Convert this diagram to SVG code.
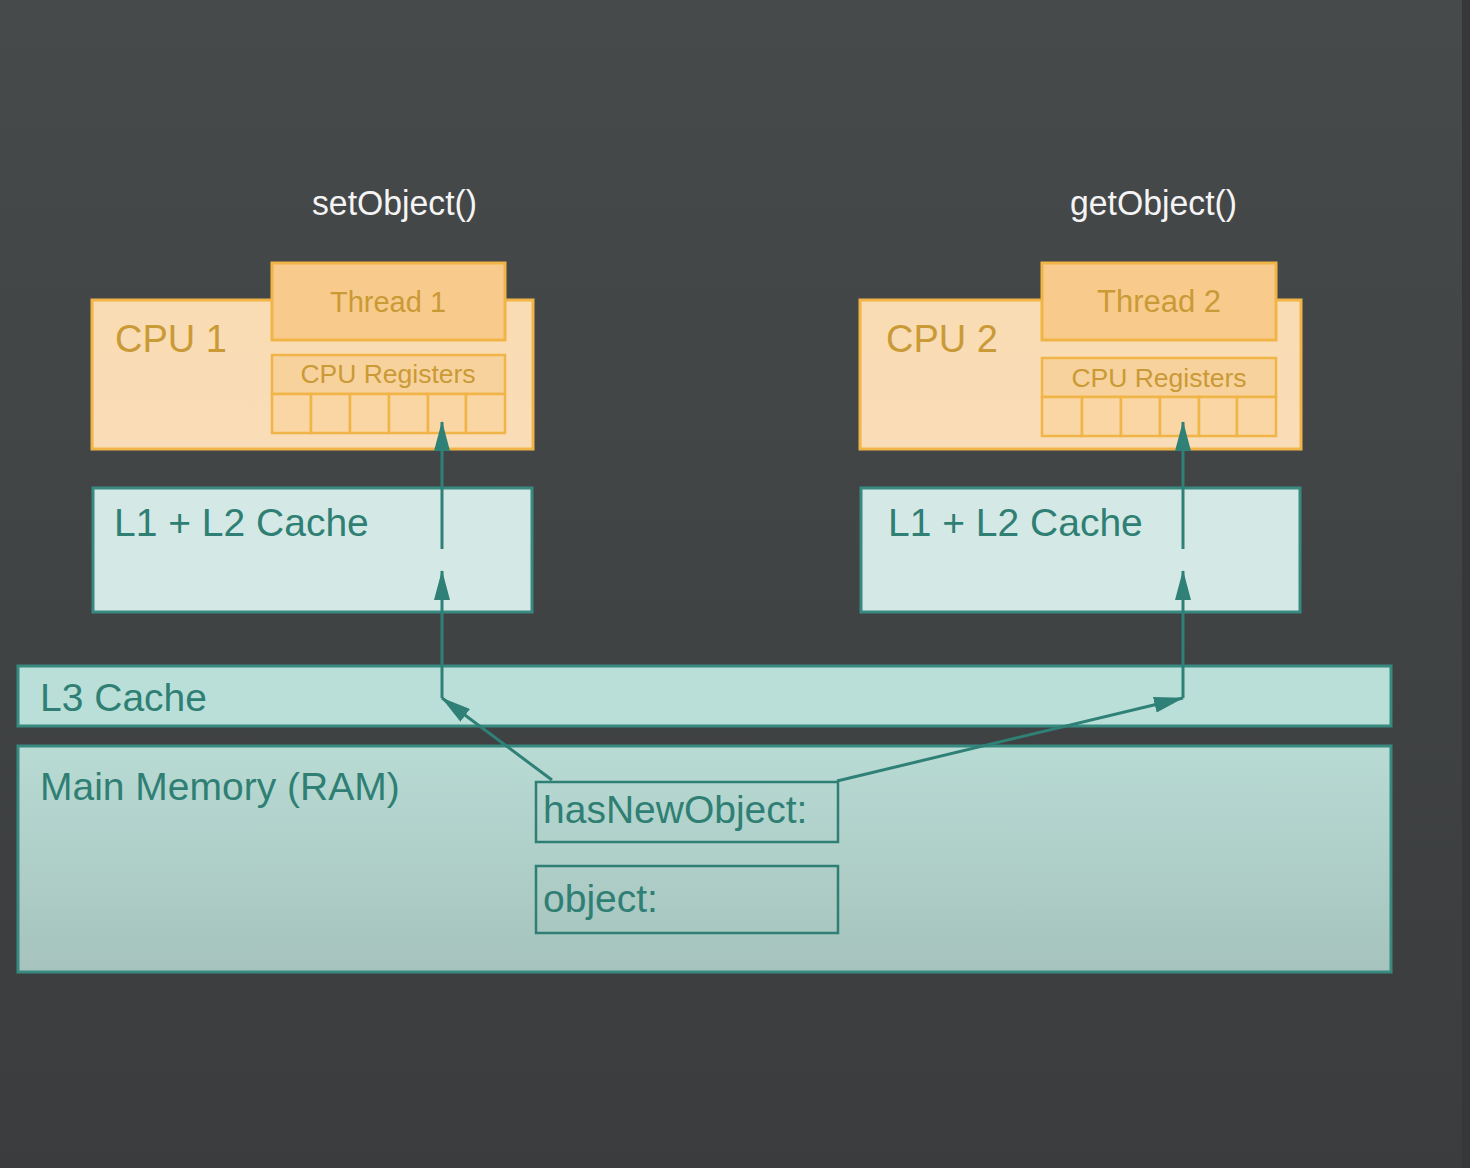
<svg xmlns="http://www.w3.org/2000/svg" width="1470" height="1168" viewBox="0 0 1470 1168">
<defs>
<linearGradient id="bg" x1="0" y1="0" x2="0" y2="1">
<stop offset="0" stop-color="#474a4b"/>
<stop offset="1" stop-color="#3a3c3e"/>
</linearGradient>
<linearGradient id="cpuFill" x1="0" y1="0" x2="0" y2="1">
<stop offset="0" stop-color="#fadcb3"/>
<stop offset="1" stop-color="#f9ddb8"/>
</linearGradient>
<linearGradient id="ramFill" x1="0" y1="0" x2="0" y2="1">
<stop offset="0" stop-color="#b8dbd4"/>
<stop offset="1" stop-color="#a6c3bd"/>
</linearGradient>
<marker id="arr" viewBox="0 0 30 16" refX="29" refY="8" markerWidth="30" markerHeight="16" markerUnits="userSpaceOnUse" orient="auto">
<path d="M0,0 L30,8 L0,16 Z" fill="#2f8077"/>
</marker>
<style>
.cpu{fill:url(#cpuFill);stroke:#f0b447;stroke-width:3}
.thr{fill:#f8cb8c;stroke:#f0b447;stroke-width:3}
.reg{fill:#f8d29c;stroke:#f0b447;stroke-width:2.5}
.cell{fill:#f9d6a4;stroke:#f0b447;stroke-width:2.5}
.l12{fill:#d4e9e5;stroke:#388a80;stroke-width:3}
.l3{fill:#badfd8;stroke:#388a80;stroke-width:3}
.ram{fill:url(#ramFill);stroke:#388a80;stroke-width:3}
.var{fill:none;stroke:#2f7f75;stroke-width:2.5}
.t{font-family:"Liberation Sans",Arial,sans-serif}
.ct{fill:#c99a36}
.tt{fill:#2f7f74}
.wt{fill:#f4f4f4}
.con{fill:none;stroke:#2f8077;stroke-width:3}
</style>
</defs>
<rect x="0" y="0" width="1470" height="1168" fill="url(#bg)"/>
<rect x="1462" y="0" width="8" height="1168" fill="#353739"/>

<text class="t wt" x="312" y="215" font-size="35" textLength="165" lengthAdjust="spacingAndGlyphs">setObject()</text>
<text class="t wt" x="1070" y="215" font-size="35" textLength="167" lengthAdjust="spacingAndGlyphs">getObject()</text>

<g id="cpu1">
<rect class="cpu" x="92" y="300" width="441" height="149"/>
<text class="t ct" x="115" y="352" font-size="38">CPU 1</text>
<g id="thread1">
<rect class="thr" x="272" y="263" width="233" height="77"/>
<text class="t ct" x="388" y="312" font-size="29" text-anchor="middle">Thread 1</text>
</g>
<g id="regs1">
<rect class="reg" x="272" y="355" width="233" height="39"/>
<text class="t ct" x="388" y="383" font-size="26.5" text-anchor="middle">CPU Registers</text>
<rect class="cell" x="272" y="394" width="39" height="39"/>
<rect class="cell" x="311" y="394" width="39" height="39"/>
<rect class="cell" x="350" y="394" width="39" height="39"/>
<rect class="cell" x="389" y="394" width="39" height="39"/>
<rect class="cell" x="428" y="394" width="38" height="39"/>
<rect class="cell" x="466" y="394" width="39" height="39"/>
</g>
</g>

<g id="cpu2">
<rect class="cpu" x="860" y="300" width="441" height="149"/>
<text class="t ct" x="886" y="352" font-size="38">CPU 2</text>
<g id="thread2">
<rect class="thr" x="1042" y="263" width="234" height="77"/>
<text class="t ct" x="1159" y="312" font-size="31" text-anchor="middle">Thread 2</text>
</g>
<g id="regs2">
<rect class="reg" x="1042" y="358" width="234" height="39"/>
<text class="t ct" x="1159" y="387" font-size="26.5" text-anchor="middle">CPU Registers</text>
<rect class="cell" x="1042" y="397" width="40" height="39"/>
<rect class="cell" x="1082" y="397" width="39" height="39"/>
<rect class="cell" x="1121" y="397" width="39" height="39"/>
<rect class="cell" x="1160" y="397" width="39" height="39"/>
<rect class="cell" x="1199" y="397" width="38" height="39"/>
<rect class="cell" x="1237" y="397" width="39" height="39"/>
</g>
</g>

<g id="l12cache1">
<rect class="l12" x="93" y="488" width="439" height="124"/>
<text class="t tt" x="114" y="536" font-size="39">L1 + L2 Cache</text>
</g>
<g id="l12cache2">
<rect class="l12" x="861" y="488" width="439" height="124"/>
<text class="t tt" x="888" y="536" font-size="39">L1 + L2 Cache</text>
</g>

<g id="l3cache">
<rect class="l3" x="18" y="666" width="1373" height="60"/>
<text class="t tt" x="40" y="711" font-size="39">L3 Cache</text>
</g>

<g id="ram">
<rect class="ram" x="18" y="746" width="1373" height="226"/>
<text class="t tt" x="40" y="800" font-size="39">Main Memory (RAM)</text>
</g>

<g id="hasNewObject">
<rect class="var" x="536" y="782" width="302" height="60"/>
<text class="t tt" x="543" y="823" font-size="39">hasNewObject:</text>
</g>
<g id="object">
<rect class="var" x="536" y="866" width="302" height="67"/>
<text class="t tt" x="543" y="912" font-size="39">object:</text>
</g>

<g id="connectors">
<line class="con" x1="552" y1="780" x2="442" y2="698" marker-end="url(#arr)"/>
<line class="con" x1="442" y1="698" x2="442" y2="571" marker-end="url(#arr)"/>
<line class="con" x1="442" y1="549" x2="442" y2="422" marker-end="url(#arr)"/>
<line class="con" x1="837" y1="781" x2="1183" y2="698" marker-end="url(#arr)"/>
<line class="con" x1="1183" y1="698" x2="1183" y2="571" marker-end="url(#arr)"/>
<line class="con" x1="1183" y1="549" x2="1183" y2="422" marker-end="url(#arr)"/>
</g>
</svg>
